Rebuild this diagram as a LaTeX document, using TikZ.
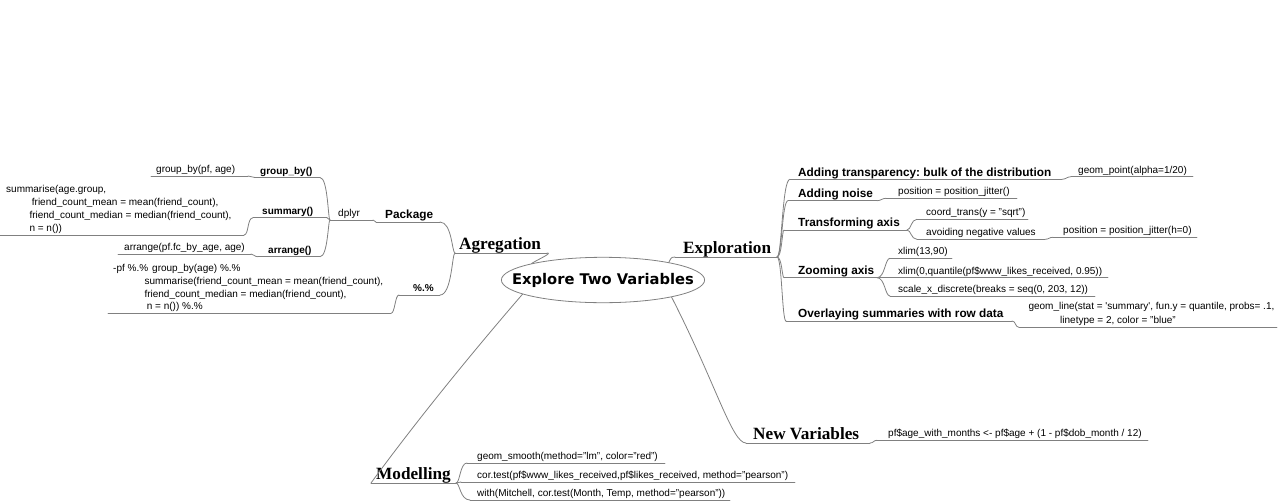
\documentclass[tikz,border=0pt]{standalone}
\usepackage{fontspec}
\setmainfont{Liberation Sans}
\newfontfamily\serifbf{Liberation Serif}
\newfontfamily\rootfont{DejaVu Sans}
\usetikzlibrary{calc,shapes.geometric}
\definecolor{linegray}{RGB}{128,128,128}
\newcommand\ulin[4]{\coordinate (#1-l) at (#2,#4); \coordinate (#1-r) at (#3,#4); \draw[line] (#1-l) -- (#1-r);}
\newcommand\mmconn[4]{\draw[line] (#1) .. controls ($(#1)+(#3,0)$) and ($(#2)+(#4,0)$) .. (#2);}
\frenchspacing
\begin{document}
\begin{tikzpicture}[x=1pt,y=-1pt,
  line/.style={draw=linegray, line width=0.8pt, line cap=round},
  leaf/.style={anchor=base west, inner sep=0pt, font=\fontsize{10}{12}\selectfont},
  sub/.style={anchor=base west, inner sep=0pt, font=\fontsize{10}{12}\selectfont\bfseries},
  subL/.style={anchor=base west, inner sep=0pt, font=\fontsize{11.8}{14}\selectfont\bfseries},
  main/.style={anchor=base west, inner sep=0pt, font=\serifbf\bfseries\fontsize{17.2}{20}\selectfont},
  rootnode/.style={ellipse, draw=linegray, line width=0.8pt, inner xsep=-19pt, inner ysep=0pt, minimum height=45.4pt, font=\rootfont\bfseries\fontsize{14.7}{16}\selectfont}
]
\useasboundingbox (0,0) rectangle (1278,501);

% root
\node[rootnode] (root) at (603,280) {Explore Two Variables};

% main branches
\node[main] (ag) at (459,249) {Agregation}; \ulin{ag}{455}{547}{253}
\node[main] (ex) at (683,253) {Exploration}; \ulin{ex}{675}{777}{257}
\node[main] (mo) at (376,479) {Modelling}; \ulin{mo}{371}{456}{483}
\node[main] (nv) at (753,439) {New Variables}; \ulin{nv}{746}{870}{443}

\draw[line] (ag-r) .. controls ($(ag-r)+(6,0)$) and ($(root.167)+(6,-4)$) .. (root.167);
\draw[line] (ex-l) .. controls ($(ex-l)+(-5,0)$) and ($(root.15)+(2,-3)$) .. (root.15);
\draw[line] (root.190) .. controls ($(root.190)!0.35!(mo-l)+(-4,0)$) and ($(root.190)!0.7!(mo-l)+(-4,0)$) .. (mo-l);
\draw[line] (root.346) .. controls ($(root.346)!0.6!(nv-l)$) and ($(nv-l)+(-14,0)$) .. (nv-l);

% ---- Agregation
\node[subL] (pk) at (385,218) {Package}; \ulin{pk}{376}{440}{222}
\mmconn{ag-l}{pk-r}{-3}{12}
\node[sub] (pp) at (413,291.5) {\%.\%}; \ulin{pp}{399}{440}{295}
\mmconn{ag-l}{pp-r}{-3}{12}

\node[leaf] (ppl1) at (113,271.4) {-pf \%.\%\hspace*{4pt}group\_by(age) \%.\%};
\node[leaf] (ppl2) at (144.3,284.2) {summarise(friend\_count\_mean = mean(friend\_count),};
\node[leaf] (ppl3) at (144.3,297) {friend\_count\_median = median(friend\_count),};
\node[leaf] (ppl4) at (146.7,309.8) {n = n()) \%.\%};
\ulin{ppl}{108}{391}{313.3}
\mmconn{pp-l}{ppl-r}{-4}{4}

\node[leaf] (dp) at (338,216.5) {dplyr}; \ulin{dp}{330}{373}{220}
\mmconn{pk-l}{dp-r}{-2}{2}

\node[sub] (gb) at (260,174) {group\_by()}; \ulin{gb}{255}{320}{177.5}
\mmconn{dp-l}{gb-r}{-2}{8}
\node[sub] (su) at (262,214.3) {summary()}; \ulin{su}{253}{327}{217.8}
\mmconn{dp-l}{su-r}{-1.5}{1.5}
\node[sub] (ar) at (268,253.2) {arrange()}; \ulin{ar}{258}{320}{256.7}
\mmconn{dp-l}{ar-r}{-2}{8}

\node[leaf] (gbl) at (156,172.5) {group\_by(pf, age)}; \ulin{gbl}{151}{248}{176}
\mmconn{gb-l}{gbl-r}{-3.5}{3.5}

\node[leaf] (sul1) at (6,192.5) {summarise(age.group,};
\node[leaf] (sul2) at (31.7,205.5) {friend\_count\_mean = mean(friend\_count),};
\node[leaf] (sul3) at (29.3,218.5) {friend\_count\_median = median(friend\_count),};
\node[leaf] (sul4) at (29.3,231.5) {n = n())};
\ulin{sul}{0}{244}{235}
\mmconn{su-l}{sul-r}{-6}{5}

\node[leaf] (arl) at (124,250.5) {arrange(pf.fc\_by\_age, age)}; \ulin{arl}{118}{251}{254}
\mmconn{ar-l}{arl-r}{-4}{3}

% ---- Exploration
\node[subL] (at) at (798,176) {Adding transparency: bulk of the distribution}; \ulin{at}{790}{1062}{179.3}
\mmconn{ex-r}{at-l}{5}{-8}
\node[leaf] (atl) at (1078,173.3) {geom\_point(alpha=1/20)}; \ulin{atl}{1071}{1193}{176.7}
\mmconn{at-r}{atl-l}{4}{-4}

\node[subL] (an) at (798,197.2) {Adding noise}; \ulin{an}{788}{877}{200.7}
\mmconn{ex-r}{an-l}{5}{-6}
\node[leaf] (anl) at (898,194.8) {position = position\_jitter()}; \ulin{anl}{886}{1017}{198.3}
\mmconn{an-r}{anl-l}{4}{-4}

\node[subL] (ta) at (798,226.5) {Transforming axis}; \ulin{ta}{784}{907}{230}
\mmconn{ex-r}{ta-l}{5}{-2}
\node[leaf] (tac) at (926,215.8) {coord\_trans(y = "sqrt")}; \ulin{tac}{917}{1028}{219.3}
\mmconn{ta-r}{tac-l}{4}{-6}
\node[leaf] (tav) at (926,235.8) {avoiding negative values}; \ulin{tav}{917}{1045}{239.3}
\mmconn{ta-r}{tav-l}{4}{-6}
\node[leaf] (tavl) at (1063,233.8) {position = position\_jitter(h=0)}; \ulin{tavl}{1053}{1197}{237.3}
\mmconn{tav-r}{tavl-l}{4}{-4}

\node[subL] (za) at (798,274.2) {Zooming axis}; \ulin{za}{784}{877}{277.7}
\mmconn{ex-r}{za-l}{5}{-2}
\node[leaf] (za1) at (898,254.8) {xlim(13,90)}; \ulin{za1}{890}{952}{258.3}
\node[leaf] (za2) at (898,274.2) {xlim(0,quantile(pf\$www\_likes\_received, 0.95))}; \ulin{za2}{885}{1108}{277.7}
\node[leaf] (za3) at (898,292.5) {scale\_x\_discrete(breaks = seq(0, 203, 12))}; \ulin{za3}{890}{1095}{296}
\mmconn{za-r}{za1-l}{8}{-5}
\mmconn{za-r}{za2-l}{3}{-3}
\mmconn{za-r}{za3-l}{8}{-5}

\node[subL] (ov) at (798,317.5) {Overlaying summaries with row data}; \ulin{ov}{786}{1012}{321}
\mmconn{ex-r}{ov-l}{5}{-4}
\node[leaf] (ovl1) at (1028.3,309) {geom\_line(stat = \textquotesingle summary\textquotesingle, fun.y = quantile, probs= .1,};
\node[leaf] (ovl2) at (1060,323.5) {linetype = 2, color = "blue"};
\ulin{ovl}{1019}{1277}{327.3}
\mmconn{ov-r}{ovl-l}{4}{-4}

% ---- New Variables
\node[leaf] (nvl) at (888,436.6) {pf\$age\_with\_months <- pf\$age + (1 - pf\$dob\_month / 12)}; \ulin{nvl}{877}{1148}{440.3}
\mmconn{nv-r}{nvl-l}{4}{-4}

% ---- Modelling
\node[leaf] (ms) at (477,459.5) {geom\_smooth(method="lm", color="red")}; \ulin{ms}{467}{665}{463}
\node[leaf] (mc) at (477,478.5) {cor.test(pf\$www\_likes\_received,pf\$likes\_received, method="pearson")}; \ulin{mc}{461}{795}{482}
\node[leaf] (mw) at (477,496.5) {with(Mitchell, cor.test(Month, Temp, method="pearson"))}; \ulin{mw}{470}{730}{500}
\mmconn{mo-r}{ms-l}{4}{-7}
\mmconn{mo-r}{mc-l}{2}{-2}
\mmconn{mo-r}{mw-l}{4}{-10}
\end{tikzpicture}
\end{document}
